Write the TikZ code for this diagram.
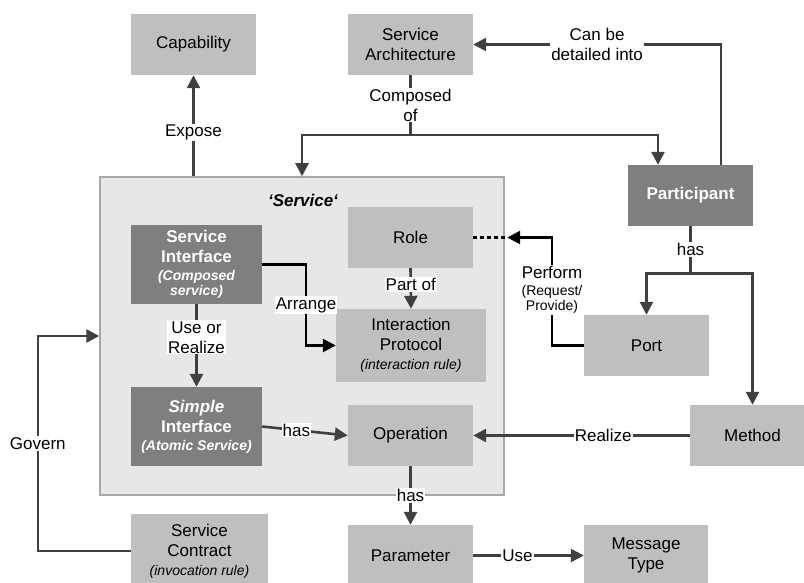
\documentclass[tikz,border=0pt]{standalone}
\usepackage{fontspec}
\setmainfont{Liberation Sans}
\usetikzlibrary{arrows.meta,calc}
\definecolor{boxl}{HTML}{BFBFBF}
\definecolor{boxd}{HTML}{7F7F7F}
\definecolor{svcfill}{HTML}{E7E7E7}
\definecolor{svcline}{HTML}{A8A8A8}
\definecolor{wirec}{HTML}{404040}
\newcommand\smallf{\fontsize{14}{15}\selectfont}
\begin{document}
\begin{tikzpicture}[x=1pt,y=-1pt,
  every node/.style={font=\fontsize{17}{20}\selectfont},
  lbox/.style={fill=boxl, inner sep=0pt, align=center, text=black, minimum width=125pt, minimum height=61pt},
  dbox/.style={fill=boxd, inner sep=0pt, align=center, text=white, minimum width=125pt, minimum height=61pt, font=\fontsize{17}{20}\selectfont\bfseries},
  svcbox/.style={fill=svcfill, draw=svcline, line width=1.5pt, inner sep=0pt},
  wire/.style={draw=wirec, line width=2.6pt},
  conn/.style={wire, -{Triangle[length=13pt,width=13pt]}},
  lbl/.style={fill=white, inner sep=1pt, align=center, text=black}]
\useasboundingbox (0,0) rectangle (804,583);
% outer service box
\node[svcbox, minimum width=404pt, minimum height=318pt] (svc) at (302,336) {};
\node[font=\fontsize{17}{20}\selectfont\bfseries\itshape] (svct) at (303,200) {‘Service‘};
% boxes
\node[lbox] (cap) at (193.5,44.5) {Capability};
\node[lbox] (sa) at (410.5,44.5) {Service\\Architecture};
\node[dbox] (part) at (690.5,195.5) {Participant};
\node[lbox] (role) at (410.5,237.5) {Role};
\node[dbox, minimum width=131pt, minimum height=79pt] (si) at (196.5,264.5) {Service\\Interface\\[-2pt]{\smallf\itshape (Composed}\\[-5pt]{\smallf\itshape service)}};
\node[lbox, minimum width=150pt, minimum height=73pt] (ip) at (411,345.5) {Interaction\\Protocol\\[-1pt]{\smallf\itshape (interaction rule)}};
\node[lbox] (port) at (646.5,345.5) {Port};
\node[dbox, minimum width=131pt, minimum height=79pt] (simp) at (196.5,426.5) {\itshape Simple\\Interface\\[-2pt]{\smallf\itshape (Atomic Service)}};
\node[lbox] (op) at (410.5,435.5) {Operation};
\node[lbox] (meth) at (752.5,435.5) {Method};
\node[lbox] (par) at (410.5,555.5) {Parameter};
\node[lbox, minimum width=124pt] (msg) at (646,555.5) {Message\\Type};
\node[lbox, minimum width=137pt, minimum height=74pt] (sc) at (199.5,551) {Service\\Contract\\[-1pt]{\smallf\itshape (invocation rule)}};
% connectors
\draw[conn] (cap.south |- svc.north) -- node[lbl, pos=0.43]{Expose} (cap.south);
\coordinate (j1) at ($(sa.south)+(0,60)$);
\draw[wire] (sa.south) -- node[lbl]{Composed\\of} (j1);
\draw[conn] (j1) -| (svc.north);
\draw[conn] (j1) -| ([xshift=-32.5pt]part.north);
\draw[conn] ([xshift=30.5pt]part.north) |- node[lbl, pos=0.75]{Can be\\detailed into} (sa.east);
\coordinate (j2) at ($(part.south)+(0,47)$);
\draw[wire] (part.south) -- node[lbl]{has} (j2);
\draw[conn] (j2) -| (port.north);
\draw[conn] (j2) -| (meth.north);
\coordinate (ptip) at ($(role.east)+(34,0)$);
\draw[wire, black, dashed, dash pattern=on 4pt off 3pt] (role.east) -- (ptip);
\draw[conn, draw=black] (port.west) -- ++(-32,0) |- (ptip);
\node[lbl] (perf) at (552,290) {Perform\\[-3pt]{\smallf (Request/}\\[-5pt]{\smallf Provide)}};
\draw[conn] (role.south) -- node[lbl, pos=0.4]{Part of} (ip.north);
\coordinate (ar) at (306,264.5);
\draw[conn, draw=black] (si.east) -- (ar) |- node[lbl, pos=0.25]{Arrange} (ip.west);
\draw[conn] (si.south) -- node[lbl, pos=0.4]{Use or\\Realize} (simp.north);
\draw[conn] (simp.east) -- node[lbl, pos=0.4]{has} (op.west);
\draw[conn] (meth.west) -- node[lbl, pos=0.4]{Realize} (op.east);
\draw[conn] (op.south) -- node[lbl]{has} (par.north);
\draw[conn] (par.east) -- node[lbl, pos=0.4]{Use} (msg.west);
\draw[conn] (sc.west) -- ++(-93,0) |- node[lbl, pos=0.25]{Govern} (svc.west);
\end{tikzpicture}
\end{document}
